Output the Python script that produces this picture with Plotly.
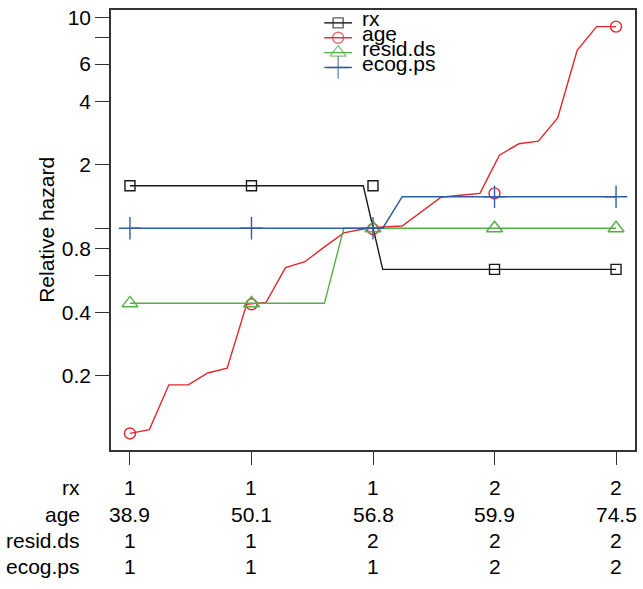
import plotly.graph_objects as go

# ---------------- data ----------------
line_x = [1.00, 1.16, 1.32, 1.48, 1.64, 1.80, 1.96, 2.12, 2.28, 2.44, 2.60, 2.76, 2.92,
          3.08, 3.24, 3.40, 3.56, 3.72, 3.88, 4.04, 4.20, 4.36, 4.52, 4.68, 4.84, 5.00]

rx_line = [1.59] * 13 + [0.638] * 13
age_line = [0.1065, 0.111, 0.181, 0.181, 0.206, 0.217, 0.436, 0.445, 0.650, 0.694,
            0.816, 0.950, 0.991, 1.013, 1.024, 1.198, 1.402, 1.432, 1.463, 2.219,
            2.513, 2.588, 3.329, 6.97, 9.03, 9.03]
resid_line = [0.4406] * 11 + [1.0] * 15
ecog_line = [1.0] * 14 + [1.409] * 12

marker_x = [1, 2, 3, 4, 5]
rx_pts = [1.59, 1.59, 1.59, 0.638, 0.638]
age_pts = [0.1065, 0.436, 0.991, 1.463, 9.03]
resid_pts = [0.4406, 0.4406, 1.0, 1.0, 1.0]
ecog_pts = [1.0, 1.0, 1.0, 1.409, 1.409]

row_names = ["rx", "age", "resid.ds", "ecog.ps"]
table_vals = [
    ["1", "1", "1", "2", "2"],
    ["38.9", "50.1", "56.8", "59.9", "74.5"],
    ["1", "1", "2", "2", "2"],
    ["1", "1", "1", "2", "2"],
]

ytick_vals = [0.2, 0.4, 0.6, 0.8, 1, 2, 4, 6, 8, 10]
ytick_text = ["0.2", "0.4", "", "0.8", "", "2", "4", "6", "", "10"]

# ---------------- styles ----------------
FONT = "Liberation Sans, Arial, Helvetica, sans-serif"
FS = 21
series = [
    ("rx", rx_line, rx_pts, "#1a1a1a", "square-open", 10),
    ("age", age_line, age_pts, "#E3262B", "circle-open", 11),
    ("resid.ds", resid_line, resid_pts, "#55B047", "triangle-up-open", 14),
    ("ecog.ps", ecog_line, ecog_pts, "#2F5DA8", "cross-thin-open", 16),
]

W, H = 643, 589
L, R, T, B = 111, 6, 6, 139
PW, PH = W - L - R, H - T - B


def px_to_paper_x(px):
    return (px - L) / PW


def px_to_paper_y(py):
    return (H - B - py) / PH


fig = go.Figure()

for name, ln, pts, col, sym, sz in series:
    fig.add_trace(go.Scatter(x=line_x, y=ln, mode="lines",
                             line=dict(color=col, width=1.4), showlegend=False,
                             hoverinfo="skip"))
    fig.add_trace(go.Scatter(x=marker_x, y=pts, mode="markers",
                             marker=dict(symbol=sym, size=sz, color=col,
                                         line=dict(color=col, width=1.4)),
                             showlegend=False, name=name))

# manual legend on overlay axes (paper-like 0..1); tight line spacing like R
leg_rows_px = [19, 34, 49, 64]
for (name, ln, pts, col, sym, sz), ry in zip(series, leg_rows_px):
    yy = px_to_paper_y(ry)
    fig.add_trace(go.Scatter(
        x=[px_to_paper_x(325), px_to_paper_x(339), px_to_paper_x(353)],
        y=[yy, yy, yy], xaxis="x2", yaxis="y2", mode="lines+markers",
        line=dict(color=col, width=1.4),
        marker=dict(symbol=sym, size=[0, sz, 0], color=col,
                    line=dict(color=col, width=1.4)),
        showlegend=False, hoverinfo="skip"))

LINE_FS = 15 / 1.3  # line pitch of 15 px
leg_text = "<br>".join(
    f"<span style='font-size:{FS}px'>{s[0]}</span>" for s in series)
fig.add_annotation(x=px_to_paper_x(361), y=px_to_paper_y(sum(leg_rows_px) / 4 - 4),
                   xref="paper", yref="paper", text=leg_text, showarrow=False,
                   xanchor="left", yanchor="middle", align="left",
                   font=dict(family=FONT, size=LINE_FS, color="black"))

# table below the axis
row_px = [488, 515, 541.5, 568]
for name, vals, ry in zip(row_names, table_vals, row_px):
    yy = px_to_paper_y(ry)
    fig.add_annotation(x=px_to_paper_x(82), y=yy, xref="paper", yref="paper",
                       text=name, showarrow=False, xanchor="right", yanchor="middle",
                       font=dict(family=FONT, size=FS, color="black"))
    for xv, v in zip(marker_x, vals):
        fig.add_annotation(x=xv, y=yy, xref="x", yref="paper", text=v,
                           showarrow=False, xanchor="center", yanchor="middle",
                           font=dict(family=FONT, size=FS, color="black"))

# y axis title
fig.add_annotation(x=px_to_paper_x(32), y=0.5, xref="paper", yref="paper",
                   text="Relative hazard", textangle=-90, showarrow=False,
                   font=dict(family=FONT, size=FS, color="black"))

AX = "#333333"
fig.update_layout(
    width=W, height=H,
    margin=dict(l=L, r=R, t=T, b=B),
    plot_bgcolor="white", paper_bgcolor="white",
    showlegend=False,
    font=dict(family=FONT, size=FS, color="black"),
    xaxis=dict(range=[0.844, 5.156], tickvals=marker_x, showticklabels=False,
               ticks="outside", ticklen=13, tickcolor=AX, tickwidth=1.3,
               showgrid=False, zeroline=False, showline=True, linecolor=AX,
               linewidth=1.5, mirror=True),
    yaxis=dict(type="log", range=[-1.0512, 1.0343], tickvals=ytick_vals,
               ticktext=ytick_text, ticks="outside", ticklen=14, tickcolor=AX,
               tickwidth=1.3, showgrid=False, zeroline=False, showline=True,
               linecolor=AX, linewidth=1.5, mirror=True,
               tickfont=dict(family=FONT, size=FS, color="black")),
    xaxis2=dict(range=[0, 1], overlaying="x", visible=False, anchor="y2"),
    yaxis2=dict(range=[0, 1], overlaying="y", visible=False, anchor="x2"),
)

fig.write_html("out.html", config={"displayModeBar": False},
               post_script="document.body.style.margin='0';"
                           "document.body.style.overflow='hidden';")
